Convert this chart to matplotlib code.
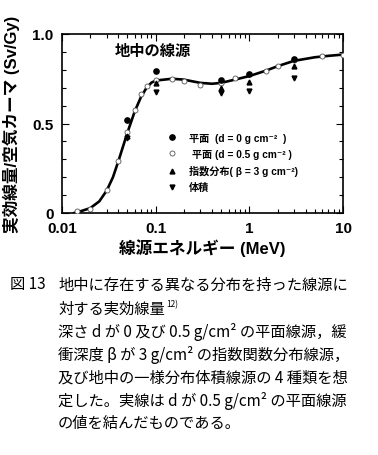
"""Effective dose per air kerma for sources distributed in the ground."""

import matplotlib

matplotlib.use("Agg")
import matplotlib.pyplot as plt
from matplotlib.lines import Line2D
from matplotlib.ticker import FixedLocator, LogLocator, NullFormatter

# d = 0.5 g cm^-2 plane source (open circles)
e_plane05 = [0.0146, 0.02, 0.03, 0.04, 0.05, 0.06, 0.07, 0.08, 0.1, 0.15, 0.2,
             0.3, 0.5, 0.7, 1.5, 2.0, 3.0, 6.0, 10.0]
v_plane05 = [0.01, 0.02, 0.128, 0.289, 0.45, 0.575, 0.665, 0.71, 0.743, 0.749,
             0.736, 0.713, 0.728, 0.756, 0.793, 0.82, 0.856, 0.875, 0.883]

# points (joins the d = 0.5 values)
e_curve = [0.0135, 0.015, 0.02, 0.025, 0.03, 0.035, 0.04, 0.05, 0.06, 0.07,
           0.08, 0.09, 0.1, 0.15, 0.2, 0.3, 0.4, 0.5, 0.7, 1.0, 1.5, 2.0,
           3.0, 5.0, 7.0, 10.0]
v_curve = [0.0, 0.006, 0.027, 0.065, 0.125, 0.2, 0.29, 0.45, 0.57, 0.65,
           0.70, 0.728, 0.74, 0.75, 0.745, 0.727, 0.722, 0.727, 0.745, 0.765,
           0.795, 0.82, 0.85, 0.87, 0.878, 0.885]

e_sel = [0.05, 0.1, 0.5, 1.0, 3.0]
v_plane0 = [0.518, 0.795, 0.745, 0.776, 0.86]   # d = 0 plane
v_expo = [0.43, 0.725, 0.697, 0.734, 0.82]      # exponential, beta = 3
v_volume = [0.42, 0.674, 0.669, 0.683, 0.754]   # uniform volume

x_ticks = [0.01, 0.1, 1, 10]
x_ticklabels = ["0.01", "0.1", "1", "10"]
y_ticks = [0, 0.5, 1.0]
y_ticklabels = ["0", "0.5", "1.0"]

labels = ["平面  (d = 0 g cm⁻²  )", " 平面 (d = 0.5 g cm⁻² )",
          "指数分布( β = 3 g cm⁻²)", "体積"]

caption_head = "図 13"
caption_lines = [
    "地中に存在する異なる分布を持った線源に",
    "対する実効線量",
    "深さ d が 0 及び 0.5 g/cm² の平面線源，緩",
    "衝深度 β が 3 g/cm² の指数関数分布線源，",
    "及び地中の一様分布体積線源の 4 種類を想",
    "定した。実線は d が 0.5 g/cm² の平面線源",
    "の値を結んだものである。",
]

FAM = ["Liberation Sans", "Noto Sans CJK JP", "DejaVu Sans"]
CJK = ["Noto Sans CJK JP", "DejaVu Sans"]
plt.rcParams["font.family"] = FAM

fig = plt.figure(figsize=(3.78, 4.56), dpi=100)
ax = fig.add_axes([62 / 378, 1 - 214 / 456, 281 / 378, 179 / 456])

ax.plot(e_curve, v_curve, color="black", lw=1.9, zorder=2)
ax.plot(e_plane05, v_plane05, "o", ms=3.6, mfc="white", mec="#555555",
        mew=0.6, zorder=3)
ax.plot(e_sel, v_plane0, "o", ms=3.8, color="black", zorder=4)
ax.plot(e_sel, v_expo, "^", ms=3.5, color="black", zorder=4)
ax.plot(e_sel, v_volume, "v", ms=3.5, color="black", zorder=4)

ax.set_xscale("log")
ax.set_xlim(0.01, 10)
ax.set_ylim(0, 1.0)
ax.xaxis.set_major_locator(FixedLocator(x_ticks))
ax.set_xticklabels(x_ticklabels)
ax.xaxis.set_minor_locator(LogLocator(base=10, subs=range(2, 10)))
ax.xaxis.set_minor_formatter(NullFormatter())
ax.set_yticks(y_ticks)
ax.set_yticklabels(y_ticklabels)
ax.yaxis.set_minor_locator(FixedLocator([i / 10 for i in range(11)]))
ax.tick_params(which="both", direction="in", top=True, right=True,
               width=0.8, labelsize=11)
ax.tick_params(which="major", length=5, pad=6)
ax.tick_params(which="minor", length=3)
for lab in ax.get_xticklabels() + ax.get_yticklabels():
    lab.set_fontweight("bold")
for sp in ax.spines.values():
    sp.set_linewidth(1.2)

ax.set_xlabel("線源エネルギー (MeV)", fontsize=12, fontweight="bold",
              labelpad=2)
ax.set_ylabel("実効線量/空気カーマ (Sv/Gy)", fontsize=12,
              fontweight="bold", labelpad=9)
ax.text(0.325, 0.91, "地中の線源", transform=ax.transAxes, ha="center",
        va="center", fontsize=11, fontweight="bold", family=CJK)

handles = [
    Line2D([], [], ls="none", marker="o", ms=3.8, color="black"),
    Line2D([], [], ls="none", marker="o", ms=3.6, mfc="white", mec="#555555",
           mew=0.6),
    Line2D([], [], ls="none", marker="^", ms=3.5, color="black"),
    Line2D([], [], ls="none", marker="v", ms=3.5, color="black"),
]
leg = ax.legend(handles, labels, loc="upper left",
                bbox_to_anchor=(0.36, 0.47), frameon=False,
                prop={"size": 7.3, "weight": "bold", "family": FAM},
                handlelength=1.0, handletextpad=1.1, labelspacing=0.6,
                borderaxespad=0)

fig.text(10 / 378, 1 - 285 / 456, caption_head, fontsize=11, family=CJK,
         va="center")
ys = [285, 309, 332, 355, 378, 401, 423]
for y, line in zip(ys, caption_lines):
    t = fig.text(58 / 378, 1 - y / 456, line, fontsize=11, family=CJK,
                 va="center")
    if line.endswith("実効線量"):
        fig.canvas.draw()
        bb = t.get_window_extent()
        fig.text(bb.x1 / 378 + 0.003, 1 - (y - 4) / 456, "12)", fontsize=6,
                 family=CJK, va="center")

fig.savefig("out.png", dpi=100)
